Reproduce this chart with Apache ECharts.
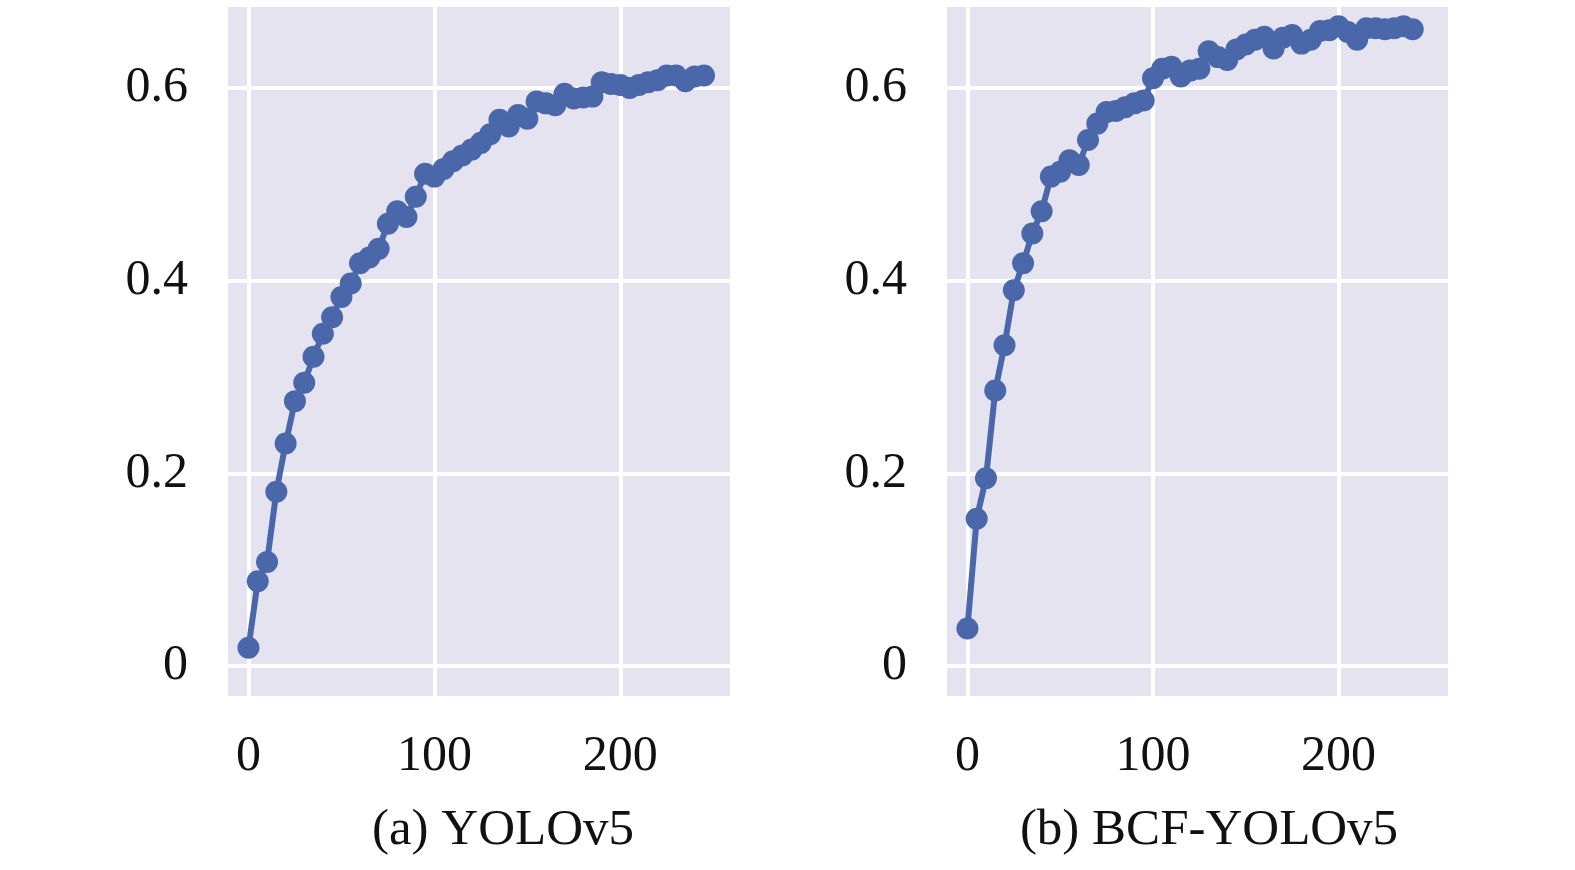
<!DOCTYPE html>
<html>
<head>
<meta charset="utf-8">
<title>YOLOv5 vs BCF-YOLOv5</title>
<script src="https://cdn.jsdelivr.net/npm/echarts@6/dist/echarts.min.js"></script>
<style>
  html, body { margin: 0; padding: 0; background: #fff; }
  #chart { width: 1575px; height: 870px; }
</style>
</head>
<body>
<div id="chart"></div>
<script>
// epochs (x) and mAP (y)
let epochsA = [0, 5, 10, 15, 20, 25, 30, 35, 40, 45, 50, 55, 60, 65, 70, 75, 80, 85, 90, 95,
    100, 105, 110, 115, 120, 125, 130, 135, 140, 145, 150, 155, 160, 165, 170, 175, 180, 185, 190, 195,
    200, 205, 210, 215, 220, 225, 230, 235, 240, 245];
let yoloA = [0.019, 0.088, 0.108, 0.181, 0.231, 0.275, 0.294, 0.321, 0.345, 0.362,
    0.383, 0.397, 0.418, 0.424, 0.433, 0.459, 0.472, 0.466, 0.487, 0.511,
    0.508, 0.516, 0.524, 0.530, 0.536, 0.543, 0.552, 0.567, 0.560, 0.572,
    0.568, 0.586, 0.584, 0.582, 0.594, 0.589, 0.590, 0.591, 0.606, 0.604,
    0.603, 0.600, 0.603, 0.606, 0.608, 0.613, 0.613, 0.607, 0.612, 0.613];

let epochsB = [0, 5, 10, 15, 20, 25, 30, 35, 40, 45, 50, 55, 60, 65, 70, 75, 80, 85, 90, 95,
    100, 105, 110, 115, 120, 125, 130, 135, 140, 145, 150, 155, 160, 165, 170, 175, 180, 185, 190, 195,
    200, 205, 210, 215, 220, 225, 230, 235, 240];
let bcfB = [0.039, 0.153, 0.195, 0.286, 0.333, 0.390, 0.418, 0.449, 0.472, 0.508,
    0.513, 0.525, 0.520, 0.546, 0.563, 0.575, 0.576, 0.580, 0.584, 0.587,
    0.610, 0.620, 0.622, 0.612, 0.618, 0.620, 0.638, 0.632, 0.629, 0.640,
    0.645, 0.650, 0.653, 0.641, 0.652, 0.655, 0.646, 0.650, 0.659, 0.660,
    0.664, 0.658, 0.650, 0.662, 0.662, 0.661, 0.662, 0.664, 0.661];

let xTicks = [0, 100, 200];
let yTicks = [0, 0.2, 0.4, 0.6];
let titles = ['(a) YOLOv5', '(b) BCF-YOLOv5'];

const lineColor = '#4a67a9';
const bgColor = '#e4e3ef';
const font = '"Liberation Serif", "Times New Roman", serif';

function pairs(xs, ys) {
    return xs.map((x, i) => [x, ys[i]]);
}

function xAxisOf(idx) {
    return {
        type: 'value',
        gridIndex: idx,
        min: -11,
        max: 259,
        axisLine: {show: false},
        axisTick: {show: false, customValues: xTicks},
        axisLabel: {
            customValues: xTicks,
            color: '#111',
            fontFamily: font,
            fontSize: 50,
            margin: 36
        },
        splitLine: {show: true, lineStyle: {color: '#fff', width: 4}}
    };
}

function yAxisOf(idx) {
    return {
        type: 'value',
        gridIndex: idx,
        min: -0.031,
        max: 0.684,
        axisLine: {show: false},
        axisTick: {show: false, customValues: yTicks},
        axisLabel: {
            customValues: yTicks,
            color: '#111',
            fontFamily: font,
            fontSize: 50,
            margin: 40,
            formatter: v => (v === 0 ? '0' : v.toFixed(1))
        },
        splitLine: {show: true, lineStyle: {color: '#fff', width: 4}}
    };
}

function lineOf(idx, data) {
    return {
        type: 'line',
        xAxisIndex: idx,
        yAxisIndex: idx,
        data: data,
        symbol: 'circle',
        symbolSize: 22,
        showAllSymbol: true,
        itemStyle: {color: lineColor},
        lineStyle: {color: lineColor, width: 6},
        animation: false
    };
}

let option = {
    backgroundColor: '#fff',
    animation: false,
    title: [
        {text: titles[0], left: 498, top: 800, textAlign: 'center',
            textStyle: {fontFamily: font, fontSize: 51, fontWeight: 'normal', color: '#111'}},
        {text: titles[1], left: 1204, top: 800, textAlign: 'center',
            textStyle: {fontFamily: font, fontSize: 51, fontWeight: 'normal', color: '#111'}}
    ],
    grid: [
        {left: 228, top: 7, width: 502, height: 689, show: true, backgroundColor: bgColor, borderWidth: 0},
        {left: 947, top: 7, width: 501, height: 689, show: true, backgroundColor: bgColor, borderWidth: 0}
    ],
    xAxis: [xAxisOf(0), xAxisOf(1)],
    yAxis: [yAxisOf(0), yAxisOf(1)],
    series: [
        lineOf(0, pairs(epochsA, yoloA)),
        lineOf(1, pairs(epochsB, bcfB))
    ]
};

let chart = echarts.init(document.getElementById('chart'));
chart.setOption(option);
</script>
</body>
</html>
